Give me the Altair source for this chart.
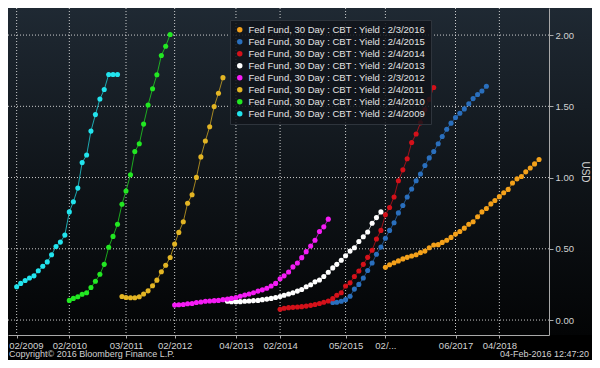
import altair as alt
import pandas as pd

# ---- series (Fed Fund 30 Day futures curves, monthly contracts) ----
series_labels = [
    "Fed Fund, 30 Day : CBT : Yield : 2/3/2016",
    "Fed Fund, 30 Day : CBT : Yield : 2/4/2015",
    "Fed Fund, 30 Day : CBT : Yield : 2/4/2014",
    "Fed Fund, 30 Day : CBT : Yield : 2/4/2013",
    "Fed Fund, 30 Day : CBT : Yield : 2/3/2012",
    "Fed Fund, 30 Day : CBT : Yield : 2/4/2011",
    "Fed Fund, 30 Day : CBT : Yield : 2/4/2010",
    "Fed Fund, 30 Day : CBT : Yield : 2/4/2009",
]
series_colors = ["#f4a11a", "#2a6fbd", "#d4111a", "#ffffff",
                 "#f51cf5", "#e3b524", "#22e822", "#22e4ee"]
series_starts = ["2016-02-01", "2015-02-01", "2014-02-01", "2013-02-01",
                 "2012-02-01", "2011-02-01", "2010-02-01", "2009-02-01"]

yield_2016 = [0.371, 0.388, 0.402, 0.415, 0.429, 0.440, 0.449, 0.458, 0.473, 0.484,
              0.507, 0.527, 0.529, 0.545, 0.560, 0.580, 0.603, 0.621, 0.645, 0.672,
              0.690, 0.725, 0.759, 0.783, 0.815, 0.839, 0.866, 0.893, 0.917, 0.962,
              0.991, 1.007, 1.040, 1.067, 1.096, 1.127]
yield_2015 = [0.123, 0.125, 0.132, 0.143, 0.167, 0.217, 0.250, 0.295, 0.348, 0.400,
              0.462, 0.513, 0.574, 0.629, 0.683, 0.752, 0.804, 0.864, 0.920, 0.978,
              1.025, 1.085, 1.138, 1.183, 1.237, 1.288, 1.339, 1.382, 1.422, 1.451,
              1.482, 1.518, 1.554, 1.583, 1.607, 1.641]
yield_2014 = [0.076, 0.083, 0.087, 0.089, 0.092, 0.094, 0.098, 0.103, 0.109, 0.116,
              0.125, 0.134, 0.150, 0.174, 0.192, 0.239, 0.261, 0.306, 0.344, 0.391,
              0.440, 0.490, 0.569, 0.629, 0.739, 0.790, 0.864, 0.978, 1.054, 1.132,
              1.246, 1.306, 1.384, 1.478, 1.549, 1.632]
yield_2013 = [0.132, 0.129, 0.129, 0.129, 0.132, 0.134, 0.136, 0.138, 0.143, 0.147,
              0.152, 0.158, 0.165, 0.174, 0.183, 0.192, 0.203, 0.214, 0.234, 0.248,
              0.268, 0.281, 0.306, 0.335, 0.366, 0.391, 0.420, 0.451, 0.484, 0.507,
              0.551, 0.585, 0.618, 0.679, 0.719, 0.759]
yield_2012 = [0.105, 0.107, 0.109, 0.114, 0.116, 0.123, 0.127, 0.132, 0.134, 0.136,
              0.138, 0.143, 0.147, 0.152, 0.158, 0.167, 0.176, 0.183, 0.192, 0.203,
              0.212, 0.223, 0.239, 0.257, 0.290, 0.310, 0.337, 0.373, 0.400, 0.438,
              0.480, 0.520, 0.560, 0.621, 0.654, 0.708]
yield_2011 = [0.165, 0.158, 0.156, 0.156, 0.163, 0.183, 0.205, 0.241, 0.280, 0.339,
              0.385, 0.439, 0.533, 0.615, 0.690, 0.820, 0.879, 1.001, 1.145, 1.257,
              1.357, 1.498, 1.592, 1.701]
yield_2010 = [0.138, 0.152, 0.163, 0.181, 0.192, 0.228, 0.272, 0.321, 0.391, 0.511,
              0.587, 0.672, 0.813, 0.906, 1.020, 1.183, 1.237, 1.375, 1.509, 1.623,
              1.721, 1.857, 1.922, 2.004]
yield_2009 = [0.234, 0.257, 0.277, 0.295, 0.310, 0.346, 0.377, 0.408, 0.458, 0.516,
              0.547, 0.596, 0.759, 0.830, 0.926, 1.105, 1.158, 1.326, 1.442, 1.551,
              1.618, 1.723, 1.723, 1.723]
series_values = [yield_2016, yield_2015, yield_2014, yield_2013,
                 yield_2012, yield_2011, yield_2010, yield_2009]

# ---- axis ticks ----
x_tick_dates = ["2009-02-01", "2010-02-01", "2011-03-01", "2012-02-01", "2013-04-01",
                "2014-02-01", "2015-05-01", "2016-02-01", "2017-06-01", "2018-04-01"]
x_tick_labels = ["02/2009", "02/2010", "03/2011", "02/2012", "04/2013",
                 "02/2014", "05/2015", "02/...", "06/2017", "04/2018"]
y_tick_values = [0.0, 0.5, 1.0, 1.5, 2.0]
x_domain = ["2008-12-03", "2019-03-11"]
y_domain = [-0.105, 2.19]

footer_left = "Copyright\u00a9 2016 Bloomberg Finance L.P."
footer_right = "04-Feb-2016 12:47:20"

# ---- build tables ----
rows = []
for lab, start, vals in zip(series_labels, series_starts, series_values):
    dates = pd.date_range(start, periods=len(vals), freq="MS")
    for d, v in zip(dates, vals):
        rows.append({"series": lab, "date": d.strftime("%Y-%m-%d"), "value": v})
df = pd.DataFrame(rows)


def ms(s):
    return int(pd.Timestamp(s, tz="UTC").value // 10**6)


W, H = 541, 327
PAD_R, PAD_B = 43, 25
FONT = "Liberation Sans"
TXT = "#d2d2d2"
AX = "#a8a8a8"

xscale = alt.Scale(type="utc", domain=[ms(x_domain[0]), ms(x_domain[1])], nice=False)
yscale = alt.Scale(domain=y_domain, nice=False, zero=False)
cscale = alt.Scale(domain=series_labels, range=series_colors)

# labels that differ from the plain mm/YYYY format
label_expr = "datum.label"
for d, lab in zip(x_tick_dates, x_tick_labels):
    plain = pd.Timestamp(d).strftime("%m/%Y")
    if plain != lab:
        label_expr = f"datum.label == '{plain}' ? '{lab}' : {label_expr}"

x_axis = alt.Axis(values=[ms(d) for d in x_tick_dates], format="%m/%Y",
                  labelExpr=label_expr, title=None,
                  grid=False, labelFlush=12, labelFlushOffset=8, labelOverlap=False,
                  zindex=1,
                  labelFont=FONT, labelFontSize=9.5, labelColor=TXT,
                  tickColor=AX, tickSize=3, domainColor=AX, labelPadding=2)
y_axis = alt.Axis(orient="right", values=y_tick_values, format=".2f", grid=False,
                  title="USD", zindex=1,
                  labelFont=FONT, labelFontSize=9.5, labelColor=TXT,
                  tickColor=AX, tickSize=4, domainColor=AX, labelPadding=2,
                  titleFont=FONT, titleFontSize=10, titleFontWeight="normal",
                  titleColor=TXT, titlePadding=6)

bg = alt.Chart(pd.DataFrame({"k": [0]})).mark_rect(
    fill=alt.Gradient(
        gradient="linear",
        stops=[alt.GradientStop(color="#1f2933", offset=0),
               alt.GradientStop(color="#10151a", offset=0.5),
               alt.GradientStop(color="#030405", offset=1)],
        x1=0, x2=0, y1=0, y2=1),
).encode(x=alt.value(0), x2=alt.value(W + PAD_R), y=alt.value(0), y2=alt.value(H))

grid_x = alt.Chart(pd.DataFrame({"d": x_tick_dates})).mark_rule(
    color="#e0e0e0", strokeDash=[1, 2], strokeWidth=1, opacity=0.9
).encode(x=alt.X("d:T", scale=xscale, axis=x_axis))

grid_y = alt.Chart(pd.DataFrame({"v": y_tick_values})).mark_rule(
    color="#e0e0e0", strokeDash=[1, 2], strokeWidth=1, opacity=0.9
).encode(y=alt.Y("v:Q", scale=yscale, axis=y_axis))

lines = alt.Chart(df).mark_line(strokeWidth=1, opacity=0.7).encode(
    x=alt.X("date:T", scale=xscale, axis=x_axis),
    y=alt.Y("value:Q", scale=yscale, axis=y_axis),
    color=alt.Color("series:N", scale=cscale, legend=None),
)

points = alt.Chart(df).mark_circle(size=26, opacity=1).encode(
    x=alt.X("date:T", scale=xscale, axis=x_axis),
    y=alt.Y("value:Q", scale=yscale, axis=y_axis),
    color=alt.Color("series:N", scale=cscale,
                    legend=alt.Legend(title=None, orient="none", legendX=222, legendY=12,
                                      zindex=1, labelLimit=400,
                                      fillColor="rgba(16,20,26,0.85)", strokeColor="#2e343c",
                                      padding=5, labelFont=FONT, labelFontSize=9.5,
                                      labelColor="#e4e4e4", symbolSize=30, symbolType="circle",
                                      symbolStrokeWidth=0, rowPadding=1)),
)

one = pd.DataFrame({"k": [0]})
foot_l = alt.Chart(one).mark_text(align="left", baseline="middle", font=FONT,
                                  fontSize=9, color=TXT).encode(
    x=alt.value(1), y=alt.value(H + 19), text=alt.value(footer_left))
foot_r = alt.Chart(one).mark_text(align="right", baseline="middle", font=FONT,
                                  fontSize=9, color=TXT).encode(
    x=alt.value(W + PAD_R - 3), y=alt.value(H + 19), text=alt.value(footer_right))

chart = alt.layer(bg, grid_x, grid_y, lines, points, foot_l, foot_r).resolve_legend(
    color="independent"
).properties(
    width=W, height=H,
    autosize=alt.AutoSizeParams(type="none"),
    padding={"left": 0, "top": 0, "right": PAD_R, "bottom": PAD_B},
    background="#000000",
).configure_view(stroke=None)

chart.save("out.html", embed_options={"renderer": "svg", "actions": False})
